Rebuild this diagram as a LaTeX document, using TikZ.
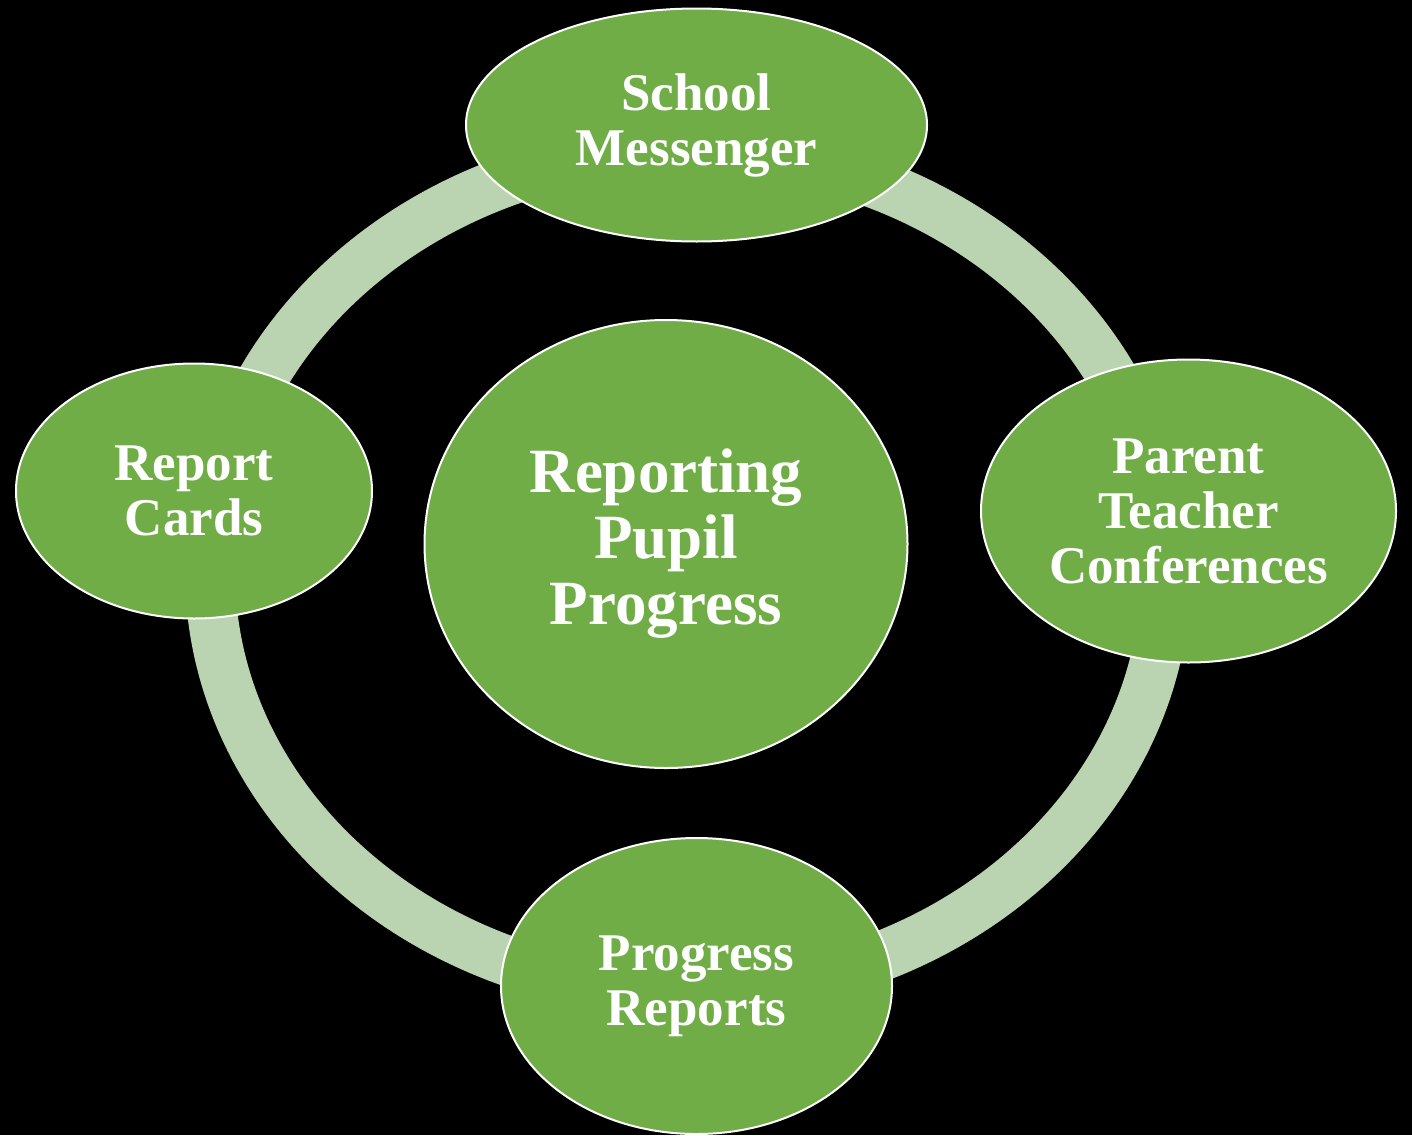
\documentclass[tikz,border=0pt]{standalone}
\usepackage{fontspec}
\setmainfont{Liberation Serif}
\usetikzlibrary{shapes.geometric}
\definecolor{leaf}{HTML}{70AD47}
\definecolor{pale}{HTML}{BAD4B2}

\begin{document}
\begin{tikzpicture}
[x = 1pt, y = -1pt,
 ring/.style = {draw = pale, line width = 50pt},
 bubble/.style = {ellipse, draw = white, line width = 2pt, fill = leaf, text = white, inner sep = 0pt, align = center, font = \fontsize{53}{55}\selectfont\bfseries},
 hub/.style = {bubble, font = \fontsize{63}{66}\selectfont\bfseries}
 ]
\fill [black] (0,0) rectangle (1412,1135);
\useasboundingbox (0,0) rectangle (1412,1135);
\draw [ring] (688,571) ellipse [x radius = 478, y radius = 421];
\node [bubble, minimum width = 461pt, minimum height = 233pt] (messenger) at (696.5,125) {School\\Messenger};
\node [bubble, minimum width = 356pt, minimum height = 255pt] (cards) at (194,491) {Report\\Cards};
\node [bubble, minimum width = 415pt, minimum height = 303pt] (conferences) at (1188.5,511) {Parent\\Teacher\\Conferences};
\node [bubble, minimum width = 391pt, minimum height = 296pt] (reports) at (696.5,986) {Progress\\Reports};
\node [hub, minimum width = 483pt, minimum height = 448pt] (progress) at (666,544) {Reporting\\Pupil\\Progress};
\end{tikzpicture}
\end{document}
